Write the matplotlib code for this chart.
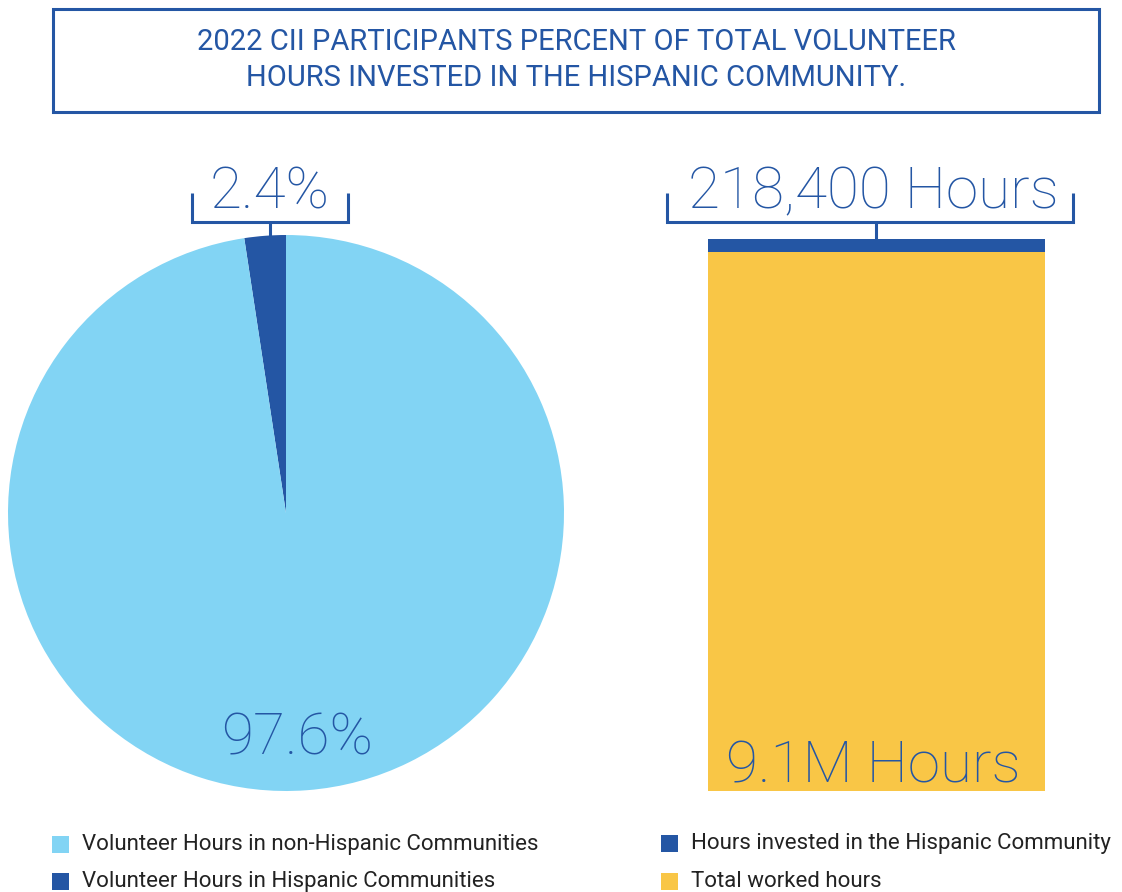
import matplotlib
matplotlib.use("Agg")
import matplotlib.pyplot as plt
from matplotlib.patches import Rectangle

# Data
pie_labels = ["Volunteer Hours in Hispanic Communities",
              "Volunteer Hours in non-Hispanic Communities"]
pie_values = [2.4, 97.6]
bar_labels = ["Total worked hours", "Hours invested in the Hispanic Community"]
bar_values = [9_100_000, 218_400]
title_lines = ["2022 CII PARTICIPANTS PERCENT OF TOTAL VOLUNTEER",
               "HOURS INVESTED IN THE HISPANIC COMMUNITY."]

LIGHT_BLUE = "#82D4F4"
DARK_BLUE = "#2456A4"
YELLOW = "#F9C646"
TEXT_DARK = "#222222"

W, H = 1122, 892
fig = plt.figure(figsize=(W / 100, H / 100), dpi=100)


def fig_rect(x0, y0, x1, y1):
    """Convert a pixel box (top-left origin) to figure fraction."""
    return [x0 / W, 1 - y1 / H, (x1 - x0) / W, (y1 - y0) / H]


# Pie chart
pax = fig.add_axes(fig_rect(8, 235, 564, 791))
pax.pie(pie_values, colors=[DARK_BLUE, LIGHT_BLUE], startangle=90,
        counterclock=True, radius=1.0)
pax.set_xlim(-1, 1)
pax.set_ylim(-1, 1)
pax.set_aspect("equal")
pax.axis("off")

# Stacked bar
bax = fig.add_axes(fig_rect(708, 239, 1045, 791))
total = sum(bar_values)
bax.bar([0], [bar_values[0]], width=1.0, color=YELLOW)
bax.bar([0], [bar_values[1]], bottom=[bar_values[0]], width=1.0, color=DARK_BLUE)
bax.set_xlim(-0.5, 0.5)
bax.set_ylim(0, total)
bax.axis("off")

# Overlay axes in pixel coordinates for title box, brackets, labels, legend
ov = fig.add_axes([0, 0, 1, 1], zorder=5)
ov.patch.set_alpha(0)
ov.set_xlim(0, W)
ov.set_ylim(H, 0)
ov.axis("off")

# Title box
ov.add_patch(Rectangle((53, 9), 1046, 103, fill=False, edgecolor=DARK_BLUE,
                       linewidth=2.2))
for y, line in zip([42, 78], title_lines):
    ov.text(576, y, line, ha="center", va="center", color=DARK_BLUE,
            fontsize=21, family="Roboto")

num_font = dict(family="Roboto", fontweight="light", color=DARK_BLUE)


def bracket(x0, x1, xs, y_top, y_bot, y_stem):
    ov.plot([x0, x0, x1, x1], [y_top, y_bot, y_bot, y_top], color=DARK_BLUE,
            lw=2.2, solid_joinstyle="miter", solid_capstyle="butt")
    ov.plot([xs, xs], [y_bot, y_stem], color=DARK_BLUE, lw=2.2,
            solid_capstyle="butt")


bracket(192, 348, 270, 193, 222, 237)
ov.text(270, 193, f"{pie_values[0]}%", ha="center", va="center",
        fontsize=42, **num_font)
ov.text(297, 739, f"{pie_values[1]}%", ha="center", va="center",
        fontsize=42, **num_font)

bracket(667, 1073, 876, 193, 222, 239)
ov.text(873, 193, f"{bar_values[1]:,} Hours", ha="center", va="center",
        fontsize=42, **num_font)
ov.text(873, 767, f"{bar_values[0] / 1e6:.1f}M Hours", ha="center",
        va="center", fontsize=42, **num_font)

# Legends
legend_items = [
    (52, 836, LIGHT_BLUE, pie_labels[1]),
    (52, 873, DARK_BLUE, pie_labels[0]),
    (661, 835, DARK_BLUE, bar_labels[1]),
    (661, 873, YELLOW, bar_labels[0]),
]
for x, y, c, label in legend_items:
    ov.add_patch(Rectangle((x, y), 17, 17, color=c, linewidth=0))
    ov.text(x + 30, y + 8.5, label, ha="left", va="center", color=TEXT_DARK,
            fontsize=16, family="Roboto")

fig.savefig("out.png", dpi=100)
